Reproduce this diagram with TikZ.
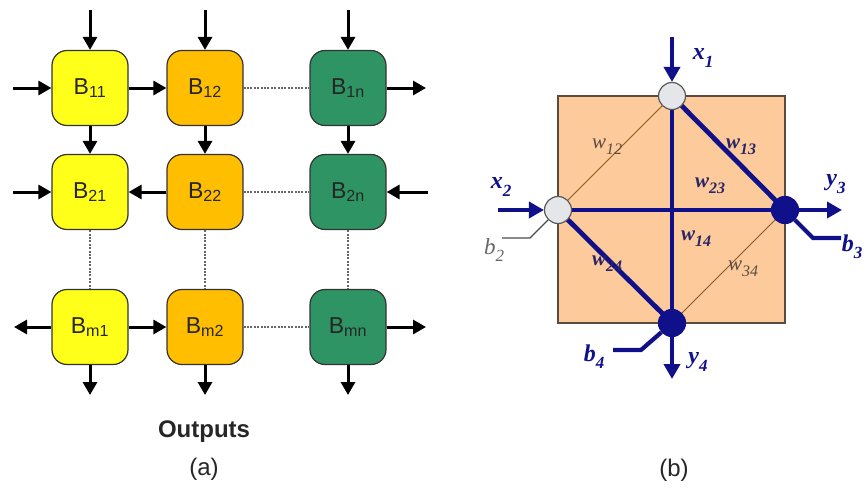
\documentclass[tikz,border=0pt]{standalone}
\usepackage{fontspec}
\setmainfont{Liberation Serif}
\setsansfont{Liberation Sans}
\usetikzlibrary{arrows.meta}
\definecolor{byel}{HTML}{FFFF1A}
\definecolor{bora}{HTML}{FFBF00}
\definecolor{bgrn}{HTML}{2E9464}
\definecolor{navy}{HTML}{10108A}
\definecolor{peach}{HTML}{FDCB9B}
\definecolor{brn}{HTML}{8C5A1E}
\definecolor{lgray}{HTML}{E4E6EA}
\definecolor{wlab}{HTML}{2A2466}
\definecolor{tlab}{HTML}{5A4A40}
\newcommand{\sbs}[1]{\raisebox{-0.3em}{\fontsize{16}{16}\selectfont #1}}
\newcommand{\sbl}[1]{\raisebox{-0.3em}{\fontsize{17}{17}\selectfont #1}}
\begin{document}
\begin{tikzpicture}[x=1pt,y=-1pt,
  blk/.style={draw=black!80, line width=1.2pt, rounded corners=15pt, minimum width=76pt, minimum height=75pt, inner sep=0pt, font=\sffamily\fontsize{23}{26}\selectfont, text=black!85},
  arr/.style={-{Triangle[length=13pt,width=14pt]}, line width=3pt},
  dots/.style={draw=black!60, line width=1.6pt, dash pattern=on 2pt off 1.4pt},
  nav/.style={navy, line width=4.8pt},
  narr/.style={navy, line width=4.5pt, -{Triangle[length=15pt,width=16pt]}},
  thinb/.style={brn, line width=1pt},
  lab/.style={navy, font=\bfseries\itshape\fontsize{24}{26}\selectfont},
  wb/.style={wlab, font=\bfseries\itshape\fontsize{21}{24}\selectfont},
  wn/.style={tlab, font=\itshape\fontsize{21}{24}\selectfont},
  lnode/.style={circle, draw=black!65, fill=lgray, line width=1.2pt, minimum size=27pt, inner sep=0pt},
  dnode/.style={circle, draw=navy, fill=navy, line width=1.2pt, minimum size=27pt, inner sep=0pt},
  captxt/.style={font=\sffamily\fontsize{24}{27}\selectfont, text=black!85}
]
\useasboundingbox (0,0) rectangle (866,487);
\fill[white] (0,0) rectangle (866,487);

% ---------- panel (a) ----------
\node[blk, fill=byel] (b11) at (90,88) {B\textsubscript{11}};
\node[blk, fill=bora] (b12) at (205,88) {B\textsubscript{12}};
\node[blk, fill=bgrn] (b1n) at (348,88) {B\textsubscript{1n}};
\node[blk, fill=byel] (b21) at (90,192) {B\textsubscript{21}};
\node[blk, fill=bora] (b22) at (205,192) {B\textsubscript{22}};
\node[blk, fill=bgrn] (b2n) at (348,192) {B\textsubscript{2n}};
\node[blk, fill=byel] (bm1) at (90,327) {B\textsubscript{m1}};
\node[blk, fill=bora] (bm2) at (205,327) {B\textsubscript{m2}};
\node[blk, fill=bgrn] (bmn) at (348,327) {B\textsubscript{mn}};

\coordinate (t1) at (90,10);  \coordinate (t2) at (205,10);  \coordinate (t3) at (348,10);
\coordinate (d1) at (90,395); \coordinate (d2) at (205,395); \coordinate (d3) at (348,395);
\coordinate (l1) at (13,88);  \coordinate (r1) at (426,88);
\coordinate (l2) at (13,192); \coordinate (r2) at (428,192);
\coordinate (lm) at (14,327); \coordinate (rm) at (426,327);

\draw[arr] (t1) -- (b11);
\draw[arr] (t2) -- (b12);
\draw[arr] (t3) -- (b1n);
\draw[arr] (l1) -- (b11);
\draw[arr] (b11) -- (b12);
\draw[dots] (b12) -- (b1n);
\draw[arr] (b1n) -- (r1);
\draw[arr] (b11) -- (b21);
\draw[arr] (b12) -- (b22);
\draw[arr] (b1n) -- (b2n);
\draw[arr] (l2) -- (b21);
\draw[arr] (b22) -- (b21);
\draw[dots] (b22) -- (b2n);
\draw[arr] (r2) -- (b2n);
\draw[dots] (b21) -- (bm1);
\draw[dots] (b22) -- (bm2);
\draw[dots] (b2n) -- (bmn);
\draw[arr] (bm1) -- (lm);
\draw[arr] (bm1) -- (bm2);
\draw[dots] (bm2) -- (bmn);
\draw[arr] (bmn) -- (rm);
\draw[arr] (bm1) -- (d1);
\draw[arr] (bm2) -- (d2);
\draw[arr] (bmn) -- (d3);

\node[captxt, font=\sffamily\bfseries\fontsize{24}{27}\selectfont] (outs) at (204,432) {Outputs};
\node[captxt] (capa) at (204,469) {(a)};

% ---------- panel (b) ----------
\node[draw=tlab, fill=peach, line width=1.2pt, minimum width=227pt, minimum height=227pt, inner sep=0pt] (sq) at (671.5,209.5) {};
\coordinate (c1) at (672,96);
\coordinate (c2) at (558,210);
\coordinate (c3) at (785,210);
\coordinate (c4) at (672,323);
\draw[thinb] (c1) -- (c2);
\draw[thinb] (c3) -- (c4);
\draw[nav] (c1) -- (c3);
\draw[nav] (c1) -- (c4);
\draw[nav] (c2) -- (c3);
\draw[nav] (c2) -- (c4);
\node[lnode] (n1) at (c1) {};
\node[lnode] (n2) at (c2) {};
\node[dnode] (n3) at (c3) {};
\node[dnode] (n4) at (c4) {};

\coordinate (x1s) at (672,37);
\coordinate (x2s) at (498,210);
\coordinate (y3e) at (842,210);
\coordinate (y4e) at (672,379);
\draw[narr] (x1s) -- (n1);
\draw[narr] (x2s) -- (n2);
\draw[narr] (n3) -- (y3e);
\draw[narr] (n4) -- (y4e);
\coordinate (b3a) at (813,238); \coordinate (b3b) at (841,238);
\coordinate (b4a) at (641,350); \coordinate (b4b) at (613,350);
\coordinate (b2a) at (530,238); \coordinate (b2b) at (502,238);
\draw[navy, line width=4.2pt] (n3) -- (b3a) -- (b3b);
\draw[navy, line width=4.2pt] (n4) -- (b4a) -- (b4b);
\draw[black!70, line width=1.1pt] (n2) -- (b2a) -- (b2b);

\node[lab] (lx1) at (703,58) {x\sbl{1}};
\node[lab] (lx2) at (501,187) {x\sbl{2}};
\node[lab] (ly3) at (836,184) {y\sbl{3}};
\node[lab] (ly4) at (698,362) {y\sbl{4}};
\node[lab] (lb3) at (852,247) {b\sbl{3}};
\node[lab] (lb4) at (594,357) {b\sbl{4}};
\node[wn, text=black!60, font=\itshape\fontsize{23}{25}\selectfont] (lb2) at (494,250) {b\sbl{2}};

\node[wn] (w12) at (607,147) {w\sbs{12}};
\node[wb] (w13) at (741,147) {w\sbs{13}};
\node[wb] (w23) at (710,186) {w\sbs{23}};
\node[wb] (w14) at (696,239) {w\sbs{14}};
\node[wb] (w24) at (607,264) {w\sbs{24}};
\node[wn] (w34) at (743,269) {w\sbs{34}};

\node[captxt] (capb) at (674,470) {(b)};
\end{tikzpicture}
\end{document}
